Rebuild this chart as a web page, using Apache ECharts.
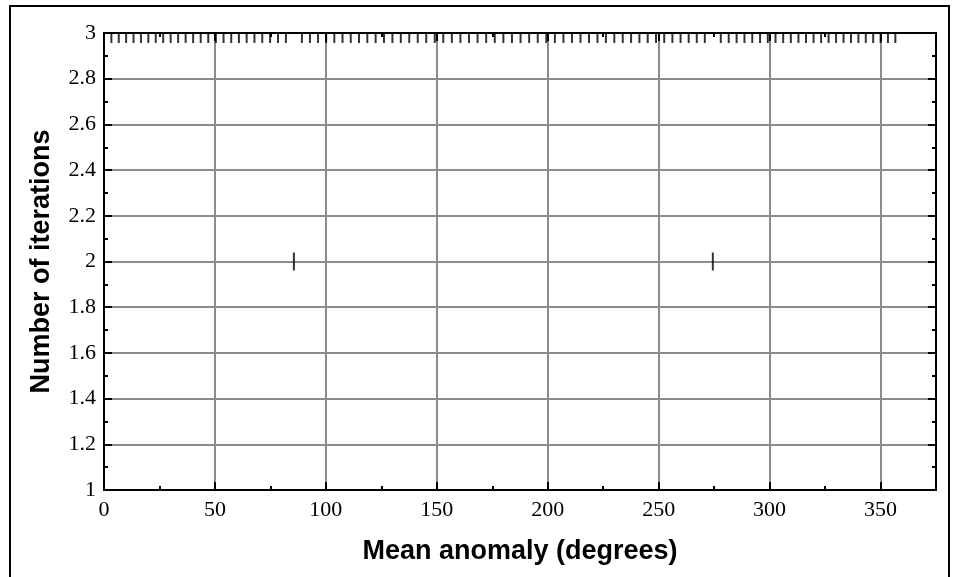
<!DOCTYPE html>
<html>
<head>
<meta charset="utf-8">
<script src="https://cdn.jsdelivr.net/npm/echarts@6/dist/echarts.min.js"></script>
<style>
  html, body { margin: 0; padding: 0; background: #fff; }
  #chart { width: 958px; height: 577px; }
</style>
</head>
<body>
<div id="chart"></div>
<script>
// mean anomaly samples (degrees)
const meanAnomaly = [
  0, 3.32, 6.65, 9.97, 13.30, 16.64, 19.98, 23.32, 26.68, 30.04,
  33.41, 36.79, 40.18, 43.59, 47.00, 50.43, 53.88, 57.34, 60.81, 64.30,
  67.81, 71.33, 74.87, 78.43, 82.00, 85.59, 89.20, 92.83, 96.47, 100.13,
  103.81, 107.50, 111.21, 114.94, 118.68, 122.43, 126.20, 129.99, 133.78, 137.59,
  141.41, 145.24, 149.08, 152.92, 156.78, 160.64, 164.50, 168.37, 172.25, 176.12,
  180.00, 183.88, 187.75, 191.63, 195.50, 199.36, 203.22, 207.08, 210.92, 214.76,
  218.59, 222.41, 226.22, 230.01, 233.80, 237.57, 241.32, 245.06, 248.79, 252.50,
  256.19, 259.87, 263.53, 267.17, 270.80, 274.41, 278.00, 281.57, 285.13, 288.67,
  292.19, 295.70, 299.19, 302.66, 306.12, 309.57, 313.00, 316.41, 319.82, 323.21,
  326.59, 329.96, 333.32, 336.68, 340.02, 343.36, 346.70, 350.03, 353.35, 356.68
];
const iterations = [
  3, 3, 3, 3, 3, 3, 3, 3, 3, 3,
  3, 3, 3, 3, 3, 3, 3, 3, 3, 3,
  3, 3, 3, 3, 3, 2, 3, 3, 3, 3,
  3, 3, 3, 3, 3, 3, 3, 3, 3, 3,
  3, 3, 3, 3, 3, 3, 3, 3, 3, 3,
  3, 3, 3, 3, 3, 3, 3, 3, 3, 3,
  3, 3, 3, 3, 3, 3, 3, 3, 3, 3,
  3, 3, 3, 3, 3, 2, 3, 3, 3, 3,
  3, 3, 3, 3, 3, 3, 3, 3, 3, 3,
  3, 3, 3, 3, 3, 3, 3, 3, 3, 3
];

const xMin = 0, xMax = 375, xStep = 50, xMinorStep = 25;
const yMin = 1, yMax = 3, yStep = 0.2, yMinorStep = 0.1;

const labelFont = { fontFamily: 'Liberation Serif', fontSize: 22, color: '#000' };
const nameFont = { fontFamily: 'Liberation Sans', fontSize: 27, fontWeight: 'bold', color: '#000' };
const black = { color: '#000', width: 2 };
const gridGray = { color: '#8c8c8c', width: 2 };

const chart = echarts.init(document.getElementById('chart'));

// points sitting on the top edge only show their lower half
const points = meanAnomaly.map((m, i) => {
  const onTop = iterations[i] === yMax;
  return {
    value: [m, iterations[i]],
    symbolSize: onTop ? [2, 10] : [2, 18],
    symbolOffset: onTop ? [0, 5] : [0, 0],
  };
});

// one axis per tick size; the first of each kind carries labels and grid lines
function axisOf(kind, position, interval, tickLen, extra) {
  const isX = kind === 'x';
  return Object.assign({
    type: 'value',
    position: position,
    min: isX ? xMin : yMin,
    max: isX ? xMax : yMax,
    interval: interval,
    z: 4,
    axisLine: { show: true, onZero: false, lineStyle: black },
    axisTick: { show: tickLen > 0, inside: true, length: tickLen, lineStyle: black },
    axisLabel: { show: false },
    splitLine: { show: false },
  }, extra || {});
}

chart.setOption({
  animation: false,
  backgroundColor: '#fff',
  grid: { left: 104, top: 33, right: 22, bottom: 87, containLabel: false },
  graphic: [{
    type: 'rect',
    shape: { x: 10, y: 6, width: 939, height: 620 },
    style: { fill: 'none', stroke: '#000', lineWidth: 2 },
    silent: true,
  }],
  xAxis: [
    axisOf('x', 'bottom', xStep, 0, {
      z: 0,
      name: 'Mean anomaly (degrees)',
      nameLocation: 'middle',
      nameGap: 48,
      nameTextStyle: nameFont,
      axisLabel: Object.assign({ show: true, margin: 9, showMaxLabel: false }, labelFont),
      splitLine: { show: true, lineStyle: gridGray },
    }),
    axisOf('x', 'bottom', xStep, 8),
    axisOf('x', 'bottom', xMinorStep, 4),
    axisOf('x', 'top', xStep, 8),
    axisOf('x', 'top', xMinorStep, 4),
  ],
  yAxis: [
    axisOf('y', 'left', yStep, 0, {
      z: 0,
      name: 'Number of iterations',
      nameLocation: 'middle',
      nameGap: 49,
      nameTextStyle: nameFont,
      axisLabel: Object.assign({ show: true, margin: 8 }, labelFont),
      splitLine: { show: true, lineStyle: gridGray },
    }),
    axisOf('y', 'left', yStep, 8),
    axisOf('y', 'left', yMinorStep, 4),
    axisOf('y', 'right', yStep, 8),
    axisOf('y', 'right', yMinorStep, 4),
  ],
  series: [{
    type: 'scatter',
    xAxisIndex: 0,
    yAxisIndex: 0,
    symbol: 'rect',
    clip: false,
    itemStyle: { color: '#000' },
    data: points,
    z: 5,
  }],
});
</script>
</body>
</html>
